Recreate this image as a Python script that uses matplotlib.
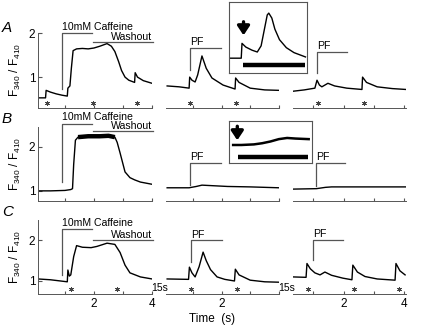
import numpy as np
import matplotlib
matplotlib.use("Agg")
import matplotlib.pyplot as plt

plt.rcParams['font.family'] = ['Liberation Sans', 'DejaVu Sans']
plt.rcParams['mathtext.fontset'] = 'custom'
plt.rcParams['mathtext.rm'] = 'Liberation Sans'
plt.rcParams['mathtext.it'] = 'Liberation Sans:italic'

# ---- traces (time in s, F340/F410 ratio) ----
a1_t = [0.07, 0.33, 0.35, 0.5, 0.7, 0.9, 1.08, 1.1, 1.17, 1.22, 1.28, 1.4, 1.6, 1.8, 2.0, 2.2, 2.45,
        2.6, 2.72, 2.85, 2.95, 3.07, 3.2, 3.4, 3.42, 3.5, 3.7, 4.0]
a1_v = [0.53, 0.53, 0.70, 0.66, 0.62, 0.59, 0.57, 0.75, 0.80, 1.2, 1.60, 1.64, 1.65, 1.64, 1.66, 1.70, 1.76,
        1.70, 1.58, 1.35, 1.15, 1.0, 0.93, 0.88, 1.10, 1.0, 0.92, 0.86]
a2_t = [0.08, 0.5, 0.85, 0.87, 0.95, 1.06, 1.15, 1.3, 1.45, 1.65, 2.04, 2.46, 2.48, 2.6, 2.99, 3.5, 4.0]
a2_v = [0.80, 0.78, 0.75, 1.0, 0.93, 0.89, 1.05, 1.48, 1.2, 0.98, 0.82, 0.73, 0.98, 0.88, 0.75, 0.71, 0.70]
a3_t = [0.33, 0.7, 1.05, 1.12, 1.2, 1.28, 1.48, 1.7, 2.1, 2.6, 2.62, 2.75, 3.1, 3.6, 4.05]
a3_v = [0.68, 0.71, 0.75, 0.93, 0.82, 0.78, 0.86, 0.80, 0.75, 0.72, 1.0, 0.88, 0.78, 0.74, 0.72]

b1_t = [0.07, 0.5, 1.0, 1.2, 1.26, 1.3, 1.36, 1.45, 1.8, 2.2, 2.5, 2.72, 2.8, 2.9, 3.07, 3.24, 3.4, 3.6, 4.0]
b1_v = [1.0, 1.0, 1.01, 1.03, 1.05, 1.6, 2.15, 2.22, 2.24, 2.24, 2.25, 2.22, 2.1, 1.86, 1.43, 1.3, 1.25, 1.2, 1.15]
b2_t = [0.08, 0.85, 1.1, 1.3, 1.6, 2.2, 3.0, 4.0]
b2_v = [1.07, 1.07, 1.1, 1.13, 1.12, 1.1, 1.09, 1.07]
b3_t = [0.33, 1.1, 1.4, 1.6, 2.5, 4.05]
b3_v = [1.04, 1.05, 1.08, 1.09, 1.09, 1.09]

c1_t = [0.07, 0.5, 1.08, 1.1, 1.15, 1.2, 1.3, 1.4, 1.6, 1.9, 2.1, 2.45, 2.72, 2.9, 3.07, 3.24, 3.6, 4.0]
c1_v = [1.05, 1.03, 0.98, 1.27, 1.12, 1.15, 1.6, 1.87, 1.83, 1.82, 1.85, 1.93, 1.9, 1.7, 1.39, 1.2, 1.1, 1.05]
c2_t = [0.08, 0.83, 0.86, 0.95, 1.06, 1.2, 1.34, 1.45, 1.6, 1.83, 2.1, 2.44, 2.47, 2.6, 2.99, 3.5, 4.0]
c2_v = [1.05, 1.04, 1.34, 1.2, 1.1, 1.35, 1.71, 1.5, 1.28, 1.1, 1.04, 1.0, 1.29, 1.15, 1.02, 0.98, 0.97]
c3_t = [0.33, 0.76, 0.79, 0.9, 1.05, 1.22, 1.38, 1.6, 1.97, 2.27, 2.30, 2.45, 2.7, 3.1, 3.69, 3.72, 3.85, 4.02]
c3_v = [1.1, 1.09, 1.43, 1.3, 1.2, 1.15, 1.22, 1.14, 1.07, 1.03, 1.39, 1.22, 1.11, 1.05, 1.02, 1.43, 1.25, 1.15]

# stimulus marks (*)
a_stars = [[0.38, 1.95, 3.47], [0.88, 2.5], [1.15, 2.67]]
c_stars = [[1.21, 2.79], [0.92, 2.53], [0.82, 2.34, 3.82]]

# insets (zoom of PF response)
ia_t = [0.01, 0.16, 0.17, 0.22, 0.3, 0.37, 0.42, 0.46, 0.5, 0.52, 0.56, 0.6, 0.66, 0.75, 0.85, 1.0]
ia_v = [0.75, 0.75, 0.99, 0.93, 0.88, 0.85, 0.95, 1.2, 1.45, 1.48, 1.40, 1.22, 1.05, 0.92, 0.84, 0.77]
ib_t = [0.05, 0.15, 0.3, 0.4, 0.5, 0.6, 0.7, 0.8, 0.96]
ib_v = [1.07, 1.07, 1.075, 1.085, 1.10, 1.12, 1.13, 1.125, 1.12]

fig = plt.figure(figsize=(4.21, 3.27), dpi=100)
W, H = 421.0, 327.0
gray = '#555555'
fs = 7.6


def px_axes(x0, x1, ytop, ybot):
    return fig.add_axes([x0 / W, 1 - ybot / H, (x1 - x0) / W, (ybot - ytop) / H])


seg_px = [(38, 152), (166, 279), (293, 406)]
seg_xlim = [(0.07, 4.0), (0.04, 4.0), (0.33, 4.05)]
row_px = [(33, 108), (127, 201), (220, 294)]
row_ylim = [(0.3, 2.0), (0.77, 2.45), (0.68, 2.5)]
traces = [[(a1_t, a1_v), (a2_t, a2_v), (a3_t, a3_v)],
          [(b1_t, b1_v), (b2_t, b2_v), (b3_t, b3_v)],
          [(c1_t, c1_v), (c2_t, c2_v), (c3_t, c3_v)]]

axes = []
for r in range(3):
    row = []
    for s in range(3):
        ax = px_axes(seg_px[s][0], seg_px[s][1], row_px[r][0], row_px[r][1])
        t, v = traces[r][s]
        ax.plot(t, v, color='k', lw=1.0)
        ax.set_xlim(seg_xlim[s])
        ax.set_ylim(row_ylim[r])
        for sp in ['top', 'right']:
            ax.spines[sp].set_visible(False)
        ax.spines['bottom'].set_color(gray)
        ax.spines['bottom'].set_linewidth(0.7)
        ax.set_xticks([1, 2, 3, 4])
        ax.tick_params(axis='x', direction='in', length=2, color=gray, labelsize=8.5, pad=3)
        if r < 2:
            ax.set_xticklabels([])
        elif s == 1:
            ax.set_xticklabels(['', '2', '', ''])
        else:
            ax.set_xticklabels(['', '2', '', '4'])
        if s == 0:
            ax.spines['left'].set_color(gray)
            ax.spines['left'].set_linewidth(0.7)
            ax.set_yticks([1, 2])
            ax.tick_params(axis='y', direction='in', length=3, color=gray, labelsize=8.5, pad=2)
            ax.set_ylabel(r'F$_{340}$ / F$_{410}$', fontsize=8.5, labelpad=4)
        else:
            ax.spines['left'].set_visible(False)
            ax.set_yticks([])
        ax.patch.set_alpha(0)
        row.append(ax)
    axes.append(row)

# noisy plateau in B drawn thicker
axes[1][0].plot(b1_t[7:12], b1_v[7:12], color='k', lw=3.2, solid_capstyle='butt')

# stimulus asterisks
for s in range(3):
    axes[0][s].plot(a_stars[s], [0.41] * len(a_stars[s]), ls='none', marker=(6, 2, 0),
                    ms=3.5, color='#444444', mew=0.6, clip_on=False)
    axes[2][s].plot(c_stars[s], [0.80] * len(c_stars[s]), ls='none', marker=(6, 2, 0),
                    ms=3.5, color='#444444', mew=0.6, clip_on=False)


def bars(ax, t0, t1, y, ytip, label, dy):
    ax.plot([t0, t0, t1], [ytip, y, y], color=gray, lw=0.9, clip_on=False)
    ax.text(t0, y + dy, label, fontsize=fs, ha='left', va='bottom', clip_on=False)


# caffeine / washout
caf = [(2.0, 0.73, 1.80, 0.02), (2.52, 1.2, 2.36, 0.05), (2.29, 1.15, 2.02, 0.02)]
for r in range(3):
    ax = axes[r][0]
    ytop, ytip, ywash, dy = caf[r]
    bars(ax, 0.9, 1.93, ytop, ytip, '10mM Caffeine', dy)
    ax.plot([1.97, 4.03], [ywash, ywash], color=gray, lw=0.9, clip_on=False)
    ax.text(4.0, ywash, 'Washout', fontsize=fs, ha='right', va='bottom', clip_on=False)

# PF bars
pf = [[(0.88, 1.97, 1.66, 1.16), (1.12, 2.1, 1.57, 1.09)],
      [(0.88, 1.97, 1.64, 1.14), (1.09, 2.04, 1.64, 1.11)],
      [(0.92, 2.0, 2.0, 1.46), (0.99, 1.97, 2.02, 1.51)]]
for r in range(3):
    for k in range(2):
        t0, t1, y, ytip = pf[r][k]
        bars(axes[r][k + 1], t0, t1, y, ytip, 'PF', 0.02)

# insets
arrow_style = dict(arrowstyle='-|>,head_width=0.4,head_length=0.6', color='k',
                   lw=2.4, mutation_scale=9, shrinkA=0, shrinkB=0)
ins_a = px_axes(229, 307, 2, 73)
ins_a.plot(ia_t, ia_v, color='k', lw=1.0)
ins_a.set_xlim(0, 1.02)
ins_a.set_ylim(0.51, 1.66)
ins_a.plot([0.18, 1.0], [0.64, 0.64], color='k', lw=3.2, solid_capstyle='butt')
ins_a.annotate('', xy=(0.19, 1.12), xytext=(0.19, 1.34), arrowprops=arrow_style)

ins_b = px_axes(229, 312, 121, 163)
ins_b.plot(ib_t, ib_v, color='k', lw=1.8)
ins_b.set_xlim(0, 1)
ins_b.set_ylim(0.916, 1.275)
ins_b.plot([0.11, 0.95], [0.967, 0.967], color='k', lw=3.2, solid_capstyle='butt')
ins_b.annotate('', xy=(0.1, 1.11), xytext=(0.1, 1.23), arrowprops=arrow_style)
for ins in [ins_a, ins_b]:
    ins.set_xticks([])
    ins.set_yticks([])
    for sp in ins.spines.values():
        sp.set_color(gray)
        sp.set_linewidth(0.8)

# row letters, gap labels, time label
for letter, y in [('A', 28), ('B', 119), ('C', 212)]:
    fig.text(2 / W, 1 - y / H, letter, fontsize=11, style='italic', va='center')
for x in [160, 287]:
    fig.text(x / W, 1 - 288 / H, '15s', fontsize=7.5, ha='center', va='center')
fig.text(212 / W, 1 - 319 / H, 'Time  (s)', fontsize=8.5, ha='center', va='center')

fig.savefig('out.png', dpi=100)
